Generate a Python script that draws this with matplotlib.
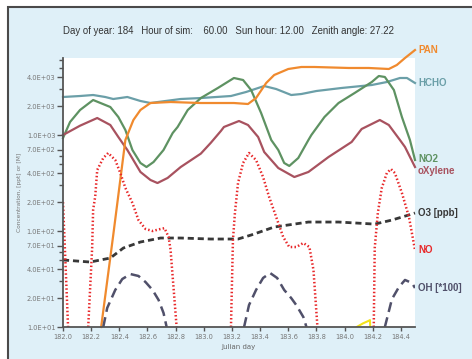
import numpy as np
import matplotlib
matplotlib.use("Agg")
import matplotlib.pyplot as plt
from matplotlib.patches import Rectangle
from matplotlib.ticker import FixedLocator, NullFormatter

nan = float("nan")

# ---- data (Julian day, concentration) ----
hcho_day = [182.0, 182.121, 182.214, 182.3, 182.357, 182.457, 182.55, 182.621, 182.729, 182.836,
            182.979, 183.193, 183.3, 183.429, 183.514, 183.621, 183.693, 183.8, 183.979, 184.193,
            184.3, 184.393, 184.443, 184.5]
hcho_val = [2488, 2548, 2610, 2488, 2371, 2488, 2261, 2154, 2261, 2371,
            2427, 2548, 2805, 3237, 3013, 2610, 2673, 2873, 3089, 3318,
            3564, 3924, 3924, 3481]

no2_day = [182.0, 182.05, 182.121, 182.214, 182.336, 182.393, 182.443, 182.493, 182.55, 182.593,
           182.643, 182.714, 182.779, 182.814, 182.886, 182.979, 183.1, 183.214, 183.279, 183.336,
           183.407, 183.479, 183.529, 183.571, 183.607, 183.671, 183.743, 183.764, 183.857, 183.957,
           184.071, 184.193, 184.243, 184.286, 184.35, 184.407, 184.464, 184.5]
no2_val = [930, 1366, 1822, 2315, 1957, 1540, 1127, 698, 511, 464,
           523, 698, 1049, 1212, 1822, 2427, 3089, 3924, 3740, 2942,
           1696, 887, 698, 511, 476, 576, 887, 1000, 1540, 2154,
           2738, 3564, 4118, 4020, 2942, 1540, 887, 549]

oxy_day = [182.0, 182.121, 182.243, 182.336, 182.393, 182.457, 182.55, 182.621, 182.671, 182.743,
           182.836, 182.979, 183.05, 183.121, 183.143, 183.25, 183.314, 183.386, 183.429, 183.529,
           183.643, 183.743, 183.886, 184.05, 184.121, 184.25, 184.314, 184.393, 184.429, 184.5]
oxy_val = [1000, 1250, 1503, 1271, 953, 698, 412, 340, 316, 357,
           464, 640, 830, 1100, 1212, 1399, 1271, 953, 665, 453,
           365, 412, 590, 846, 1155, 1433, 1271, 887, 750, 464]

pan_day = [182.271, 182.357, 182.443, 182.5, 182.55, 182.621, 182.764, 182.979, 183.214, 183.314,
           183.371, 183.443, 183.5, 183.6, 183.693, 183.786, 184.029, 184.171, 184.314, 184.371,
           184.429, 184.5]
pan_val = [10, 91, 887, 1433, 1822, 2154, 2206, 2154, 2154, 2103,
           2427, 3481, 4217, 4870, 5110, 5110, 4990, 4990, 4870, 5362,
           6340, 7674]

o3_day = [182.0, 182.193, 182.336, 182.429, 182.55, 182.693, 182.836, 183.05, 183.243, 183.336,
          183.5, 183.743, 183.957, 184.214, 184.336, 184.457, 184.5]
o3_val = [49.9, 47.5, 52.3, 66.5, 76.8, 84.5, 84.5, 82.5, 82.5, 90.8,
          110, 124, 124, 118, 130, 147, 154]

no_day = [182.0, 182.036, nan,
          182.179, 182.207, 182.214, 182.229, 182.243, 182.286, 182.321, 182.371, 182.407, 182.443,
          182.493, 182.536, 182.586, 182.636, 182.693, 182.721, 182.75, 182.764, 182.807, nan,
          183.193, 183.207, 183.221, 183.243, 183.279, 183.321, 183.371, 183.421, 183.464, 183.514,
          183.564, 183.607, 183.657, 183.707, 183.75, 183.779, 183.807, nan,
          184.207, 184.214, 184.236, 184.264, 184.3, 184.329, 184.357, 184.407, 184.457, 184.5]
no_val = [200, 10, nan,
          10, 66.5, 166, 230, 432, 576, 649, 549, 402, 281,
          196, 130, 105, 100, 105, 107, 86.6, 63.4, 10, nan,
          10, 80.5, 154, 316, 511, 649, 549, 365, 226, 140,
          86.6, 68.1, 68.1, 75, 68.1, 39.2, 10, nan,
          10, 66.5, 154, 281, 402, 442, 402, 249, 140, 63.4]

oh_day = [182.286, 182.314, 182.371, 182.421, 182.479, 182.536, 182.586, 182.636, 182.679, 182.714, 182.736, nan,
          183.286, 183.321, 183.371, 183.421, 183.471, 183.521, 183.571, 183.621, 183.657, 183.707, 183.729, nan,
          184.286, 184.336, 184.386, 184.429, 184.479, 184.5]
oh_val = [10, 15.8, 24.3, 31.6, 35.6, 34.0, 29.4, 24.3, 19.1, 14.0, 10, nan,
          10, 16.9, 24.3, 32.4, 36.5, 32.4, 24.3, 20.0, 16.9, 12.7, 10, nan,
          10, 19.5, 26.1, 30.9, 28.7, 25.5]

yel_day = [184.086, 184.13, 184.171, 184.18, 184.182]
yel_val = [10, 10.9, 11.6, 11.8, 10]

major_ticks = [10, 20, 40, 70, 100, 200, 400, 700, 1000, 2000, 4000]
minor_ticks = [30, 50, 60, 300, 500, 600, 3000, 5000, 6000]
x_ticks = [182.0, 182.2, 182.4, 182.6, 182.8, 183.0, 183.2, 183.4, 183.6, 183.8, 184.0, 184.2, 184.4]

title = "Day of year: 184   Hour of sim:    60.00   Sun hour: 12.00   Zenith angle: 27.22"

# ---- styles ----
C_PAN = "#f08a2e"
C_HCHO = "#6b9fa8"
C_NO2 = "#5e9262"
C_OXY = "#a8525f"
C_O3 = "#383838"
C_NO = "#e8282a"
C_OH = "#50506a"
C_YEL = "#f2e21a"
BG = "#dff0f8"

W, H = 472, 359
fig = plt.figure(figsize=(W / 100, H / 100), dpi=100)
fig.patch.set_facecolor("white")
frame = Rectangle((8 / W, -0.1), 1.2, 1 - 7 / H + 0.1, transform=fig.transFigure,
                  facecolor=BG, edgecolor="#4a4a4a", linewidth=1.5, zorder=-10)
fig.patches.append(frame)

ax = fig.add_axes([63 / W, 1 - 327 / H, (415 - 63) / W, (327 - 58) / H])
ax.set_facecolor("white")
ax.set_yscale("log")
ax.set_xlim(182.0, 184.5)
ax.set_ylim(10, 6340)

lw = 1.6
ax.plot(hcho_day, hcho_val, color=C_HCHO, lw=lw, clip_on=False)
ax.plot(no2_day, no2_val, color=C_NO2, lw=lw, clip_on=False)
ax.plot(oxy_day, oxy_val, color=C_OXY, lw=lw, clip_on=False)
ax.plot(pan_day, pan_val, color=C_PAN, lw=lw, clip_on=False)
ax.plot(o3_day, o3_val, color=C_O3, lw=2.0, dashes=(2.2, 1.4), clip_on=False)
ax.plot(no_day, no_val, color=C_NO, lw=1.8, dashes=(0.6, 0.9))
ax.plot(oh_day, oh_val, color=C_OH, lw=1.8, dashes=(4.0, 2.2))
ax.plot(yel_day, yel_val, color=C_YEL, lw=1.5)

# end labels
lab_font = dict(family=["Liberation Sans", "DejaVu Sans"], fontsize=7, fontweight="bold")
labels = [("PAN", pan_val[-1], C_PAN, 0), ("HCHO", hcho_val[-1], C_HCHO, 0),
          ("NO2", no2_val[-1], C_NO2, 0.5), ("oXylene", oxy_val[-1], C_OXY, -3.0),
          ("O3 [ppb]", o3_val[-1], C_O3, 0), ("NO", no_val[-1], C_NO, 0),
          ("OH [*100]", oh_val[-1], C_OH, 0)]
for txt, yv, col, dy in labels:
    ax.annotate(txt, xy=(184.5, yv), xytext=(2.2, dy), textcoords="offset points",
                va="center", ha="left", color=col, annotation_clip=False, **lab_font)

# axes styling
for s in ["top", "right"]:
    ax.spines[s].set_visible(False)
for s in ["left", "bottom"]:
    ax.spines[s].set_color("#555555")
    ax.spines[s].set_linewidth(1.3)

ax.yaxis.set_major_locator(FixedLocator(major_ticks))
ax.yaxis.set_minor_locator(FixedLocator(minor_ticks))
ax.yaxis.set_minor_formatter(NullFormatter())
ax.set_yticklabels(["%.1E" % v for v in major_ticks])
ax.set_xticks(x_ticks)
ax.set_xticklabels(["%.1f" % v for v in x_ticks])
ax.tick_params(axis="y", which="major", length=4.5, width=1.0, color="#555555",
               labelsize=4.8, labelcolor="#777777", pad=1)
ax.tick_params(axis="y", which="minor", length=3, width=1.0, color="#555555")
ax.tick_params(axis="x", which="major", length=3, width=1.0, color="#555555",
               labelsize=4.8, labelcolor="#777777", pad=2)

ax.set_xlabel("Julian day", fontsize=5, color="#666666", labelpad=3)
ax.set_ylabel("Concentration, [ppt] or [M]", fontsize=4.2, color="#777777", labelpad=3)

fig.text(63 / W, 1 - 31 / H, title, fontsize=6.95, color="#333333", va="center", ha="left",
         family=["Liberation Sans", "DejaVu Sans"])

fig.savefig("out.png", dpi=100)
